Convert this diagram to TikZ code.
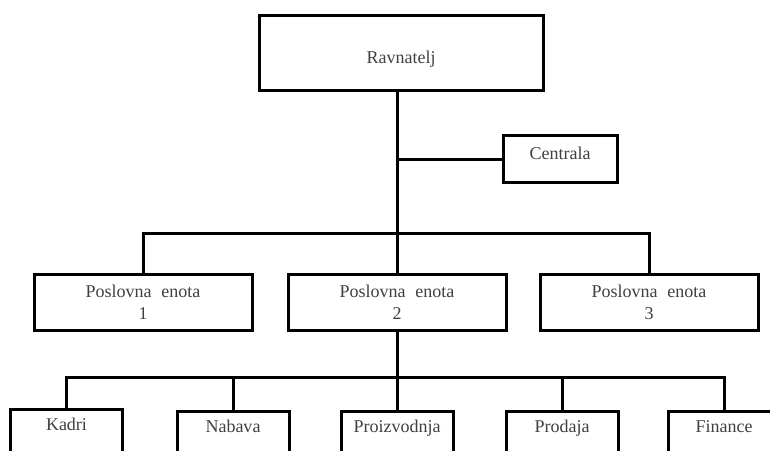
\documentclass[tikz,border=0pt]{standalone}
\usepackage{fontspec}
\setmainfont{Liberation Serif}
\begin{document}
\begin{tikzpicture}[x=1pt,y=-1pt,
  txt/.style={text=black!75, font=\fontsize{18}{22}\selectfont},
  unitbox/.style={txt, draw=black, line width=3pt, inner sep=0pt, align=center},
  leafbox/.style={unitbox, anchor=north, minimum width=112pt, text height=12pt, text depth=50pt, inner ysep=9pt},
  link/.style={draw=black, line width=3pt}
]
\useasboundingbox (0,0) rectangle (770,450);
\clip (0,0) rectangle (770,450);
\fill[white] (0,0) rectangle (770,450);

% top level
\node[unitbox, minimum width=284pt, minimum height=75pt, text height=21pt, text depth=0pt] (rav) at (401,52.5) {Ravnatelj};
\node[unitbox, minimum width=114pt, minimum height=47pt, text height=8pt, text depth=8pt] (cen) at (560,159) {Centrala};

% business units
\node[unitbox, minimum width=218pt, minimum height=56pt] (pe1) at (143,302.5) {Poslovna\hspace{0.55em}enota\\1};
\node[unitbox, minimum width=218pt, minimum height=56pt] (pe2) at (397,302.5) {Poslovna\hspace{0.55em}enota\\2};
\node[unitbox, minimum width=218pt, minimum height=56pt] (pe3) at (649,302.5) {Poslovna\hspace{0.55em}enota\\3};

% departments of unit 2
\node[leafbox] (kadri) at (66.5,408) {Kadri};
\node[leafbox] (nabava) at (233,410) {Nabava};
\node[leafbox] (proiz) at (397,410) {Proizvodnja};
\node[leafbox] (prodaja) at (562,410) {Prodaja};
\node[leafbox] (finance) at (724,410) {Finance};

% connectors
\coordinate (jc) at (pe2.north |- cen.west);
\coordinate (busA) at (pe2.north |- 0,233);
\coordinate (busB) at (pe2.south |- 0,377);

\draw[link] (rav.south -| pe2.north) -- (pe2.north);
\draw[link] (jc) -- (cen.west);
\draw[link] (pe1.north) |- (busA) -| (pe3.north);
\draw[link] (pe2.south) -- (proiz.north);
\draw[link] (kadri.north) |- (busB) -| (finance.north);
\draw[link] (nabava.north) -- (nabava.north |- busB);
\draw[link] (prodaja.north) -- (prodaja.north |- busB);
\end{tikzpicture}
\end{document}
